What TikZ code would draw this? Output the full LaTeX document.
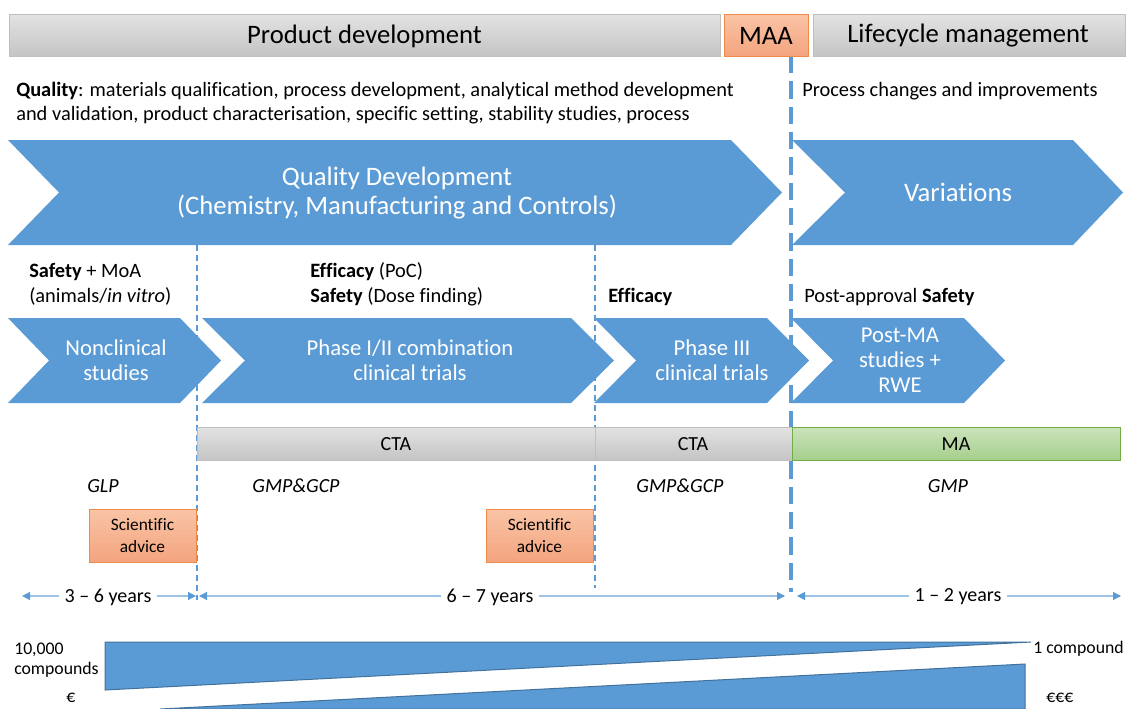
\documentclass[tikz,border=0pt]{standalone}
\usepackage{fontspec}
\setmainfont{Carlito}[Ligatures=CommonOff]
\usetikzlibrary{arrows.meta}
\definecolor{cblue}{HTML}{5B9BD5}
\definecolor{cbluedark}{HTML}{41719C}
\definecolor{cbluelight}{HTML}{9DC3E6}
\definecolor{hdrtop}{HTML}{E3E3E3}
\definecolor{hdrbot}{HTML}{C4C4C4}
\definecolor{hdrline}{HTML}{BFBFBF}
\definecolor{orgtop}{HTML}{F9C4A6}
\definecolor{orgbot}{HTML}{F4A47E}
\definecolor{orgline}{HTML}{F08A4B}
\definecolor{grntop}{HTML}{CBE3BB}
\definecolor{grnbot}{HTML}{A6CF8C}
\definecolor{grnline}{HTML}{70AD47}
\newcommand{\fs}[2]{\fontsize{#1}{#2}\selectfont}

\begin{document}
\begin{tikzpicture}[x=0.75pt,y=-0.75pt,
  graybar/.style={draw=hdrline, line width=0.75pt, top color=hdrtop, bottom color=hdrbot},
  orangebox/.style={draw=orgline, line width=0.75pt, top color=orgtop, bottom color=orgbot},
  greenbar/.style={draw=grnline, line width=0.75pt, top color=grntop, bottom color=grnbot},
  chevron/.style={fill=cblue},
  funnel/.style={fill=cblue, draw=cbluedark, line width=0.75pt},
  hdrtext/.style={inner sep=0pt, font=\fs{20}{24}},
  bigtext/.style={inner sep=0pt, text=white, align=center, font=\fs{20}{21.75}},
  chevtext/.style={inner sep=0pt, text=white, align=center, font=\fs{17}{18.75}},
  body/.style={inner sep=0pt, align=left, font=\fs{15.3}{18.5}},
  bartext/.style={inner sep=0pt, font=\fs{15}{18}},
  gxp/.style={inner sep=0pt, font=\fs{15}{18}\itshape},
  advtext/.style={inner sep=0pt, align=center, font=\fs{13}{16}},
  small/.style={inner sep=0pt, align=left, font=\fs{13.3}{15.3}},
  thindash/.style={draw=cblue, line width=1.1pt, dash pattern=on 4.5pt off 3pt},
  thickdash/.style={draw=cblue, line width=3pt, dash pattern=on 13pt off 6pt},
  span/.style={draw=cbluelight, line width=0.9pt,
    {Triangle[length=6pt,width=6pt,color=cblue]}-{Triangle[length=6pt,width=6pt,color=cblue]}},
  spantext/.style={fill=white, inner ysep=1pt, inner xsep=4pt, font=\fs{15}{18}}
]
\useasboundingbox (0,0) rectangle (1127,708);

% phase boundaries
\coordinate (b1top) at (197,245);  \coordinate (b1bot) at (197,600);
\coordinate (b2top) at (595,245);  \coordinate (b2bot) at (595,588);
\coordinate (b3top) at (791,56);   \coordinate (b3bot) at (791,592);
\draw[thindash] (b1top) -- (b1bot);
\draw[thindash] (b2top) -- (b2bot);
\draw[thickdash] (b3top) -- (b3bot);

% header bars
\path[graybar] (9,14) rectangle (720,56);
\node[hdrtext] (pd) at (364.5,36) {Product development};
\path[orangebox] (724,14) rectangle (808,56);
\node[hdrtext] (maa) at (766,36) {MAA};
\path[graybar] (813,14) rectangle (1125,56);
\node[hdrtext] (lcm) at (968,36) {Lifecycle management};

% quality text
\node[body, anchor=west] (qual) at (16,103)
  {\textbf{Quality}: materials qualification, process development, analytical method development\\
   and validation, product characterisation, specific setting, stability studies, process};
\node[body, anchor=west] (proc) at (802,91) {Process changes and improvements};

% quality / variations chevrons
\fill[chevron] (8,140) -- (731,140) -- (782,192.5) -- (731,245) -- (8,245) -- (59,192.5) -- cycle;
\node[bigtext] (qd) at (397,193) {Quality Development\\(Chemistry, Manufacturing and Controls)};
\fill[chevron] (792,140) -- (1073,140) -- (1123,192.5) -- (1073,245) -- (792,245) -- (845,192.5) -- cycle;
\node[bigtext] (var) at (958,192.5) {Variations};

% study focus labels
\node[body, anchor=west] (lab1) at (29,284.5) {\textbf{Safety} + MoA\\(animals/\textit{in vitro})};
\node[body, anchor=west] (lab2) at (310,284.5) {\textbf{Efficacy} (PoC)\\\textbf{Safety} (Dose finding)};
\node[body, anchor=west] (lab3) at (608,297) {\textbf{Efficacy}};
\node[body, anchor=west] (lab4) at (804,297) {Post-approval \textbf{Safety}};

% study chevrons
\fill[chevron] (8,318) -- (180,318) -- (221,360.5) -- (180,403) -- (8,403) -- (49,360.5) -- cycle;
\node[chevtext] (ncs) at (116,360.5) {Nonclinical\\studies};
\fill[chevron] (202,318) -- (571,318) -- (614,360.5) -- (571,403) -- (202,403) -- (245,360.5) -- cycle;
\node[chevtext] (p12) at (410,360.5) {Phase I/II combination\\clinical trials};
\fill[chevron] (594,318) -- (767,318) -- (809,360.5) -- (767,403) -- (594,403) -- (636,360.5) -- cycle;
\node[chevtext] (p3) at (712,360.5) {Phase III\\clinical trials};
\fill[chevron] (791,318) -- (964,318) -- (1005,360.5) -- (964,403) -- (791,403) -- (833,360.5) -- cycle;
\node[chevtext] (pma) at (900,360.5) {Post-MA\\studies +\\RWE};

% authorisation bars
\path[graybar] (197,427) rectangle (595,460);
\node[bartext] (cta1) at (396,444) {CTA};
\path[graybar] (595,427) rectangle (792,460);
\node[bartext] (cta2) at (693,444) {CTA};
\path[greenbar] (792,427) rectangle (1120,460);
\node[bartext] (ma) at (956,444) {MA};

% good practice labels
\node[gxp] (glp) at (103,486) {GLP};
\node[gxp] (gmp1) at (296,486) {GMP\&GCP};
\node[gxp] (gmp2) at (680,486) {GMP\&GCP};
\node[gxp] (gmp3) at (948,486) {GMP};

% scientific advice
\path[orangebox] (89,509) rectangle (196,562);
\node[advtext] (sa1) at (142.5,535.5) {Scientific\\advice};
\path[orangebox] (486,509) rectangle (593,562);
\node[advtext] (sa2) at (539.5,535.5) {Scientific\\advice};

% durations
\coordinate (d1a) at (22,596);  \coordinate (d1b) at (196,596);
\coordinate (d2a) at (199,596); \coordinate (d2b) at (785,596);
\coordinate (d3a) at (797,596); \coordinate (d3b) at (1121,596);
\draw[span] (d1a) -- (d1b);
\draw[span] (d2a) -- (d2b);
\draw[span] (d3a) -- (d3b);
\node[spantext] (y1) at (108,597) {3 -- 6 years};
\node[spantext] (y2) at (490,597) {6 -- 7 years};
\node[spantext] (y3) at (958,597) {1 -- 2 years};

% attrition and cost wedges
\path[funnel] (105,642) -- (1031,642) -- (105,690) -- cycle;
\path[funnel] (160,709) -- (1025,664) -- (1025,709) -- cycle;
\node[small, anchor=west] (c1) at (14,660) {10,000\\compounds};
\node[small, anchor=west] (e1) at (66,698) {€};
\node[small, anchor=west] (c2) at (1033,649) {1 compound};
\node[small, anchor=west] (e3) at (1046,698) {€€€};
\end{tikzpicture}
\end{document}
